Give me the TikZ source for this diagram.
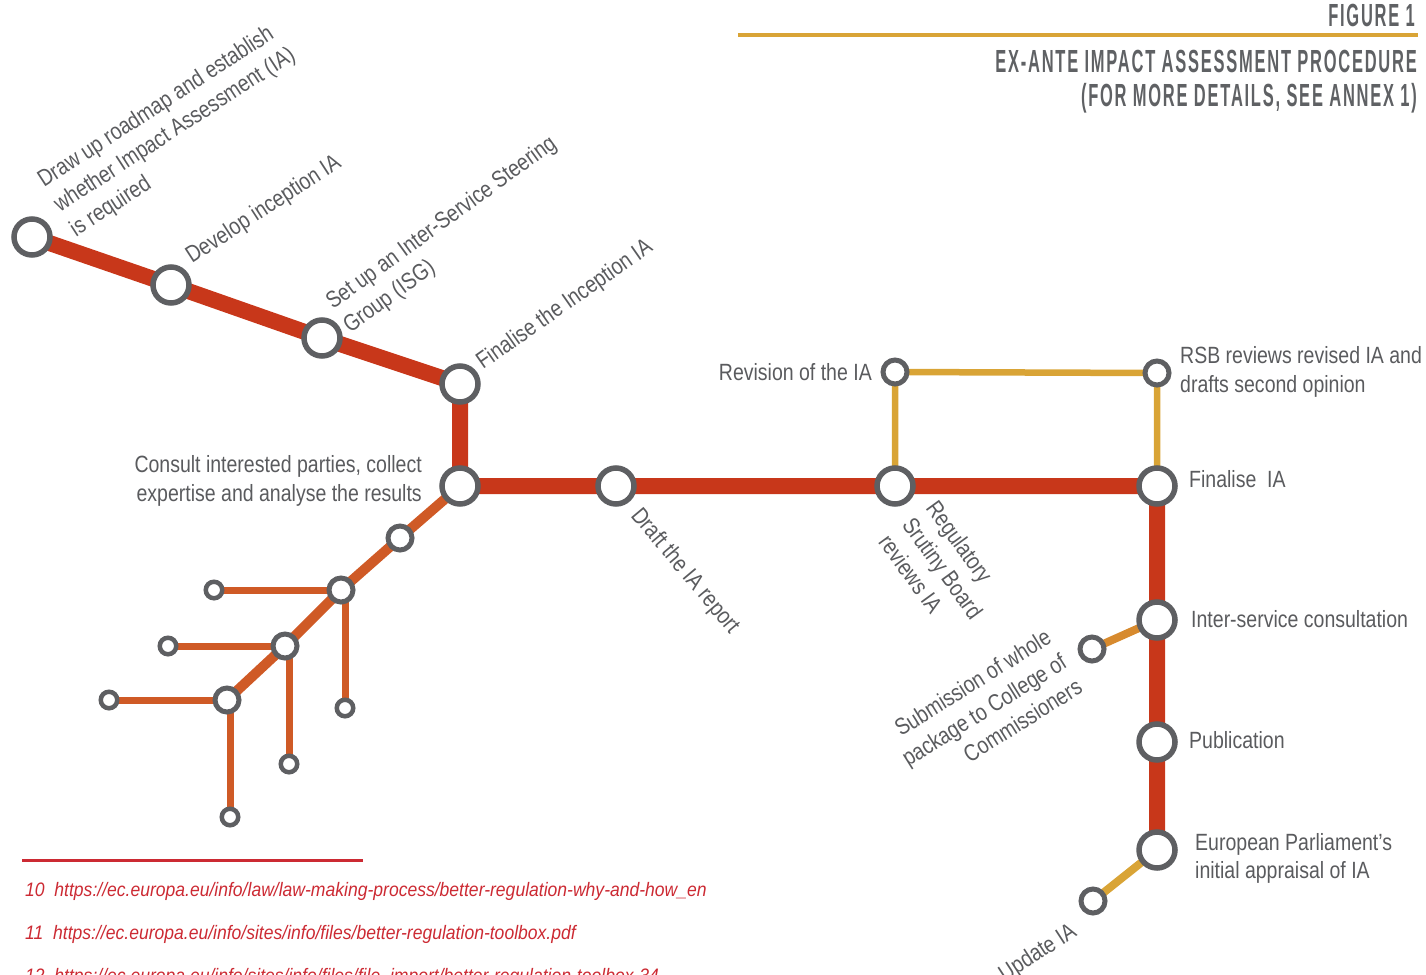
\documentclass[tikz,border=0pt]{standalone}
\usepackage{fontspec}
\setmainfont{Liberation Sans}[FakeStretch=0.83]
\newfontfamily\titlefont{Liberation Sans Bold}[FakeStretch=0.515,LetterSpace=5.5]
\newfontfamily\notefont{Liberation Sans Italic}[FakeStretch=0.9]
\usetikzlibrary{backgrounds}
\definecolor{mainred}{HTML}{C8371A}
\definecolor{branchor}{HTML}{CF5A26}
\definecolor{goldy}{HTML}{D9A436}
\definecolor{subor}{HTML}{D78A2E}
\definecolor{ringgray}{HTML}{5E5F62}
\definecolor{txtgray}{HTML}{5A5B5E}
\definecolor{titlegray}{HTML}{5F6164}
\definecolor{notered}{HTML}{CC2A33}
\newcommand{\lineL}[1]{\begin{tabular}[t]{@{}l@{}}#1\end{tabular}}
\newcommand{\lineR}[1]{\begin{tabular}[t]{@{}r@{}}#1\end{tabular}}
\tikzset{
  ring/.style={circle, draw=ringgray, fill=white, inner sep=0pt, outer sep=0pt},
  bigst/.style={ring, minimum size=36pt, line width=5.5pt},
  medst/.style={ring, minimum size=24pt, line width=5pt},
  smallst/.style={ring, minimum size=16.5pt, line width=4.5pt},
  lbl/.style={inner sep=0pt, text=txtgray, font=\fontsize{23.5}{29.3}\selectfont},
  ttl/.style={inner sep=0pt, text=titlegray, font=\titlefont\fontsize{32}{33}\selectfont},
  note/.style={inner sep=0pt, text=notered, font=\notefont\fontsize{19.5}{22}\selectfont, anchor=base west},
  mainline/.style={draw=mainred, line width=16pt},
  branchline/.style={draw=branchor, line width=10pt},
  sideline/.style={draw=branchor, line width=7pt},
  goldline/.style={draw=goldy, line width=6.5pt},
}
\begin{document}
\begin{tikzpicture}[x=1pt,y=-1pt]
\clip (0,0) rectangle (1426,974);

% title
\node[ttl, anchor=base east] (fig) at (1415,27) {FIGURE 1};
\coordinate (r1) at (738,35);
\coordinate (r2) at (1418,35);
\draw[goldy, line width=3.5pt] (r1) -- (r2);
\node[ttl, anchor=base east] (title) at (1417,73) {\lineR{EX-ANTE IMPACT ASSESSMENT PROCEDURE\\(FOR MORE DETAILS, SEE ANNEX 1)}};

% main stations
\node[bigst] (A) at (32,237) {};
\node[bigst] (B) at (171,285) {};
\node[bigst] (C) at (322,338) {};
\node[bigst] (D) at (460,384) {};
\node[bigst] (E) at (460,486) {};
\node[bigst] (F) at (616,486) {};
\node[bigst] (G) at (895,486) {};
\node[bigst] (H) at (1157,486) {};
\node[bigst] (I) at (1157,620) {};
\node[bigst] (J) at (1157,742) {};
\node[bigst] (K) at (1157,850) {};
% side stations
\node[medst] (rev) at (895,372) {};
\node[medst] (rsb) at (1157,373) {};
\node[medst] (sub) at (1092,649) {};
\node[medst] (upd) at (1093,901) {};
% branch
\node[medst] (m1) at (400,538) {};
\node[medst] (m2) at (341,590) {};
\node[medst] (m3) at (285,646) {};
\node[medst] (m4) at (227,700) {};
\node[smallst] (s1) at (214,590) {};
\node[smallst] (s2) at (168,646) {};
\node[smallst] (s3) at (109,700) {};
\node[smallst] (s4) at (345,708) {};
\node[smallst] (s5) at (289,764) {};
\node[smallst] (s6) at (230,817) {};

\begin{scope}[on background layer]
\path[mainline] (A.center) -- (B.center) -- (C.center) -- (D.center) -- (E.center) -- (F.center) -- (G.center) -- (H.center) -- (I.center) -- (J.center) -- (K.center);
\path[branchline] (E.center) -- (m1.center) -- (m2.center) -- (m3.center) -- (m4.center);
\path[sideline] (m2.center) -- (s1.center);
\path[sideline] (m3.center) -- (s2.center);
\path[sideline] (m4.center) -- (s3.center);
\path[sideline] (m2.center) -| (s4.center);
\path[sideline] (m3.center) -| (s5.center);
\path[sideline] (m4.center) -| (s6.center);
\path[goldline] (G.center) -- (rev.center) -- (rsb.center) -- (H.center);
\path[draw=subor, line width=8pt] (I.center) -- (sub.center);
\path[draw=goldy, line width=8pt] (K.center) -- (upd.center);
\end{scope}

% labels
\node[lbl, anchor=base west, rotate=33] (lA) at (44,188) {\lineL{Draw up roadmap and establish\\whether Impact Assessment (IA)\\is required}};
\node[lbl, anchor=base west, rotate=33] (lB) at (192,264) {Develop inception IA};
\node[lbl, anchor=base west, rotate=36] (lC) at (333,310) {\lineL{Set up an Inter-Service Steering\\Group (ISG)}};
\node[lbl, anchor=base west, rotate=35] (lD) at (483,370) {Finalise the Inception IA};
\node[lbl, anchor=base east] (lE) at (422,472) {\lineR{Consult interested parties, collect\\expertise and analyse the results}};
\node[lbl, anchor=base west, rotate=-50] (lF) at (630,516) {Draft the IA report};
\node[lbl, anchor=base west, rotate=-54] (lG) at (925,508) {\lineL{Regulatory\\Srutiny Board\\reviews IA}};
\node[lbl, anchor=base east] (lrev) at (872,380) {Revision of the IA};
\node[lbl, anchor=base west, font=\fontsize{23.5}{29}\selectfont] (lrsb) at (1180,363) {\lineL{RSB reviews revised IA and\\drafts second opinion}};
\node[lbl, anchor=base west] (lH) at (1189,487) {Finalise\ \ IA};
\node[lbl, anchor=base west] (lI) at (1191,627) {Inter-service consultation};
\node[lbl, anchor=base west] (lJ) at (1189,748) {Publication};
\node[lbl, anchor=base west, font=\fontsize{23.5}{28}\selectfont] (lK) at (1195,850) {\lineL{European Parliament’s\\initial appraisal of IA}};
\node[lbl, anchor=base east, rotate=32] (lsub) at (1053,642) {\lineR{Submission of whole\\package to College of\\Commissioners}};
\node[lbl, anchor=base east, rotate=33] (lupd) at (1078,935) {Update IA};

% footnotes
\coordinate (n1) at (22,860);
\coordinate (n2) at (363,860);
\draw[notered, line width=3pt] (n1) -- (n2);
\node[note] (f10) at (25,896) {10\ \ https://ec.europa.eu/info/law/law-making-process/better-regulation-why-and-how\_en};
\node[note] (f11) at (25,939) {11\ \ https://ec.europa.eu/info/sites/info/files/better-regulation-toolbox.pdf};
\node[note] (f12) at (25,982) {12\ \ https://ec.europa.eu/info/sites/info/files/file\_import/better-regulation-toolbox-34};
\end{tikzpicture}
\end{document}
